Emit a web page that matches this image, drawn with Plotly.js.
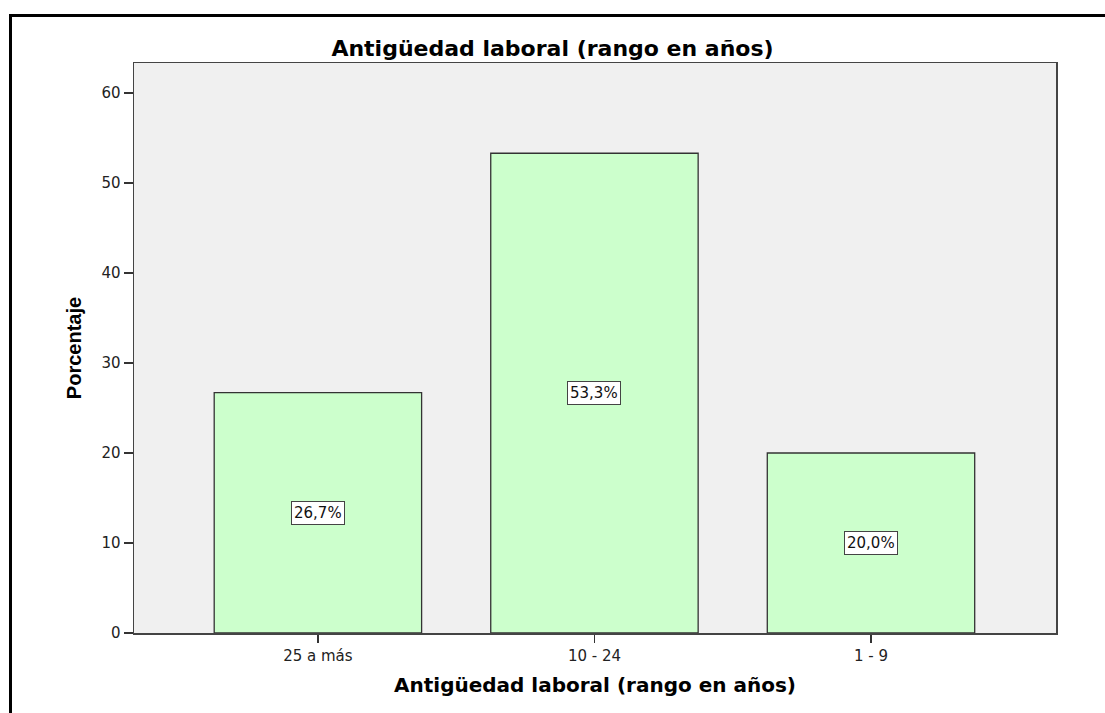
<!DOCTYPE html>
<html>
<head>
<meta charset="utf-8">
<script src="https://cdn.plot.ly/plotly-3.0.1.min.js"></script>
<style>
  html, body { margin: 0; padding: 0; background: #ffffff; }
  #wrap { position: relative; width: 1105px; height: 713px; overflow: hidden; }
  #chart { position: absolute; left: 0; top: 0; width: 1105px; height: 713px; }
  #frame { position: absolute; left: 9px; top: 14px; width: 1200px; height: 800px;
           border-left: 3px solid #000; border-top: 3px solid #000; pointer-events: none; }
</style>
</head>
<body>
<div id="wrap">
  <div id="chart"></div>
  <div id="frame"></div>
</div>
<script>
const categories = ["25 a más", "10 - 24", "1 - 9"];
const percentages = [26.7, 53.3, 20.0];
const yTickValues = [0, 10, 20, 30, 40, 50, 60];
const chartTitle = "Antigüedad laboral (rango en años)";
const xTitle = "Antigüedad laboral (rango en años)";
const yTitle = "Porcentaje";

const fmt = v => v.toFixed(1).replace('.', ',') + '%';

const trace = {
  type: 'bar',
  x: categories,
  y: percentages,
  width: 0.75,
  marker: { color: '#ccffcc', line: { color: '#333333', width: 1.3 } },
  hoverinfo: 'skip'
};

const annotations = categories.map((c, i) => ({
  x: c, y: percentages[i] / 2, xref: 'x', yref: 'y',
  text: fmt(percentages[i]), showarrow: false,
  font: { family: 'DejaVu Sans', size: 15, color: '#111' },
  bgcolor: '#ffffff', bordercolor: '#444444', borderwidth: 1, borderpad: 2
}));

const layout = {
  width: 1105, height: 713,
  margin: { l: 134, r: 49, t: 63, b: 80 },
  paper_bgcolor: 'rgba(0,0,0,0)',
  plot_bgcolor: '#f0f0f0',
  showlegend: false,
  title: {
    text: chartTitle,
    font: { family: 'DejaVu Sans', size: 22, color: '#000', weight: 'bold' },
    x: 0.5, xref: 'container', xanchor: 'center',
    y: 1 - 48 / 713, yref: 'container', yanchor: 'middle'
  },
  xaxis: {
    type: 'category',
    range: [-0.665, 2.669],
    showgrid: false, zeroline: false,
    showline: true, mirror: true, linecolor: '#444444', linewidth: 1.5,
    ticks: 'outside', ticklen: 8, tickwidth: 1.5, tickcolor: '#333333',
    tickfont: { family: 'DejaVu Sans', size: 15, color: '#222' },
    title: { text: xTitle, standoff: 14,
             font: { family: 'DejaVu Sans', size: 20, color: '#000', weight: 'bold' } },
    automargin: false
  },
  yaxis: {
    range: [0, 63.33],
    tickvals: yTickValues,
    showgrid: false, zeroline: false,
    showline: true, mirror: true, linecolor: '#444444', linewidth: 1.5,
    ticks: 'outside', ticklen: 9, tickwidth: 1.5, tickcolor: '#333333',
    tickfont: { family: 'DejaVu Sans', size: 15, color: '#222' },
    title: { text: yTitle, standoff: 14,
             font: { family: 'Liberation Sans', size: 20, color: '#000', weight: 'bold' } },
    automargin: false
  },
  annotations: annotations
};

Plotly.newPlot('chart', [trace], layout, { displayModeBar: false, staticPlot: true });
</script>
</body>
</html>
